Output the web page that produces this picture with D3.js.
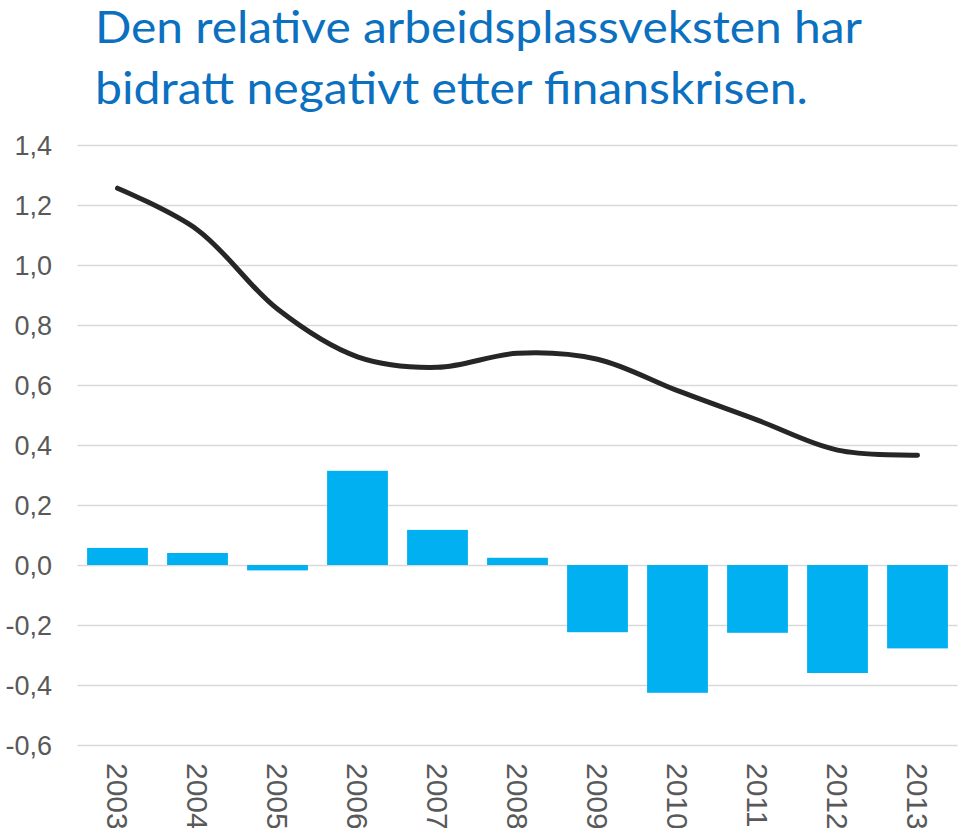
<!DOCTYPE html>
<html><head><meta charset="utf-8">
<script src="https://cdn.jsdelivr.net/npm/d3@7"></script>
<style>html,body{margin:0;padding:0;background:#fff;}</style>
</head><body>
<script>
const years = ["2003","2004","2005","2006","2007","2008","2009","2010","2011","2012","2013"];
const barValues = [0.057, 0.040, -0.018, 0.314, 0.117, 0.024, -0.224, -0.426, -0.226, -0.360, -0.278];
const lineValues = [1.256, 1.117, 0.853, 0.694, 0.659, 0.706, 0.686, 0.581, 0.483, 0.383, 0.366];
const yTicks = [1.4, 1.2, 1.0, 0.8, 0.6, 0.4, 0.2, 0.0, -0.2, -0.4, -0.6];
const titleLines = ["Den relative arbeidsplassveksten har", "bidratt negativt etter finanskrisen."];

const W = 960, H = 828;
const svg = d3.select("body").append("svg").attr("width", W).attr("height", H);

const x = d3.scaleBand().domain(years).range([77.5, 957.5]).paddingInner(0.24).paddingOuter(0.12);
const y = d3.scaleLinear().domain([-0.6, 1.4]).range([745, 145]);

// title
const titleWidths = [767, 713];
svg.selectAll("text.title").data(titleLines).join("text")
  .attr("class","title")
  .attr("x", 95).attr("y", (d,i) => 43 + i*61)
  .attr("font-family", "Lato, 'Open Sans', sans-serif")
  .attr("font-size", 45)
  .attr("fill", "#0B70C0")
  .attr("textLength", (d,i) => titleWidths[i])
  .attr("lengthAdjust", "spacingAndGlyphs")
  .text(d => d);

// gridlines
svg.append("g").selectAll("line").data(yTicks).join("line")
  .attr("x1", 77.5).attr("x2", 957.5)
  .attr("y1", d => Math.round(y(d)) + 0.5).attr("y2", d => Math.round(y(d)) + 0.5)
  .attr("stroke", "#D9D9D9").attr("stroke-width", 1.3);

// y labels
const fmt = d => d3.format(".1f")(d).replace(".", ",").replace("−","-");
svg.append("g").selectAll("text").data(yTicks).join("text")
  .attr("x", 52).attr("y", d => y(d))
  .attr("dy", "0.36em")
  .attr("text-anchor", "end")
  .attr("font-family", "'Liberation Sans', Arial, sans-serif")
  .attr("font-size", 27)
  .attr("fill", "#595959")
  .text(fmt);

// bars
svg.append("g").selectAll("rect").data(years).join("rect")
  .attr("x", d => x(d))
  .attr("width", x.bandwidth())
  .attr("y", (d,i) => y(Math.max(0, barValues[i])))
  .attr("height", (d,i) => Math.abs(y(barValues[i]) - y(0)))
  .attr("fill", "#00B0F0");

// line
const line = d3.line()
  .x((d,i) => x(years[i]) + x.bandwidth()/2)
  .y(d => y(d))
  .curve(d3.curveCatmullRom.alpha(0.5));
svg.append("path").datum(lineValues)
  .attr("d", line)
  .attr("fill", "none")
  .attr("stroke", "#262626")
  .attr("stroke-width", 5)
  .attr("stroke-linecap", "round")
  .attr("stroke-linejoin", "round");

// x labels
svg.append("g").selectAll("text").data(years).join("text")
  .attr("transform", d => `translate(${x(d) + x.bandwidth()/2},763) rotate(90)`)
  .attr("dy", "0.36em")
  .attr("text-anchor", "start")
  .attr("font-family", "'Liberation Sans', Arial, sans-serif")
  .attr("font-size", 30)
  .attr("fill", "#595959")
  .text(d => d);
</script>
</body></html>
